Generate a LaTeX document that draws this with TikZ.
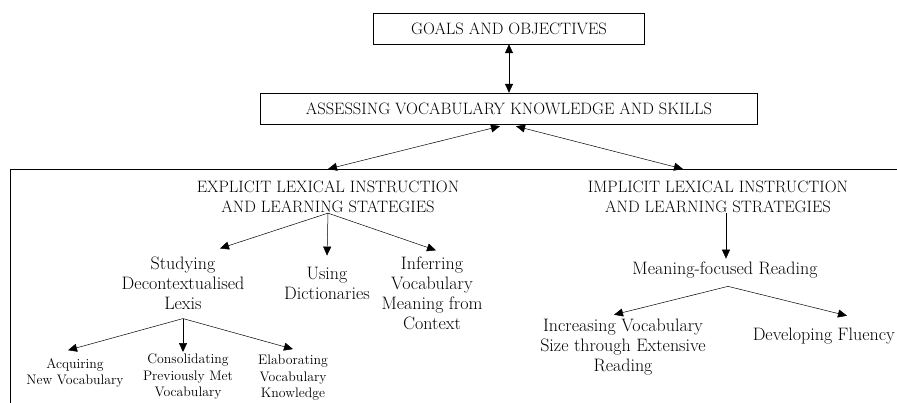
\documentclass[tikz,border=0pt]{standalone}
\usepackage{tikz}
\usetikzlibrary{arrows.meta}
\tikzset{
    plain-box/.style = {draw, thin, rectangle, minimum height=31pt, inner sep=0pt, font=\fontsize{16.5}{20}\selectfont},
    frame-box/.style = {draw, thin, rectangle, anchor=north west, minimum width=900pt, minimum height=250pt},
    head-text/.style = {align=center, inner sep=0pt, font=\fontsize{16.5}{20}\selectfont},
    item-text/.style = {align=center, inner sep=0pt, font=\fontsize{18}{20}\selectfont},
    small-text/.style = {align=center, inner sep=0pt, font=\fontsize{13.8}{16.5}\selectfont},
    link/.style = {-{Triangle[length=9pt,width=8pt]}, line width=0.5pt},
    link-both/.style = {{Triangle[length=9pt,width=8pt]}-{Triangle[length=9pt,width=8pt]}, line width=0.5pt},
}

\begin{document}
\begin{tikzpicture}[x=1pt, y=-1pt]
\useasboundingbox (0,0) rectangle (897,403);

\node[plain-box, minimum width=271pt] (goals) at (509,28.5) {GOALS AND OBJECTIVES};
\node[plain-box, minimum width=497pt] (assess) at (509,108.5) {ASSESSING VOCABULARY KNOWLEDGE AND SKILLS};
\node[frame-box] (lexical) at (10,169) {};

\node[head-text] (explicit) at (328,197) {EXPLICIT LEXICAL INSTRUCTION\\AND LEARNING STATEGIES};
\node[head-text] (implicit) at (718,197) {IMPLICIT LEXICAL INSTRUCTION\\AND LEARNING STRATEGIES};

\node[item-text] (studying) at (183,283) {Studying\\Decontextualised\\Lexis};
\node[item-text] (using) at (327,283) {Using\\Dictionaries};
\node[item-text] (inferring) at (432,293) {Inferring\\Vocabulary\\Meaning from\\Context};

\node[small-text] (acquiring) at (75,373) {Acquiring\\New Vocabulary};
\node[small-text] (consolidating) at (188,377) {Consolidating\\Previously Met\\Vocabulary};
\node[small-text] (elaborating) at (293,378) {Elaborating\\Vocabulary\\Knowledge};

\node[item-text] (meaning) at (725,270) {Meaning-focused Reading};
\node[item-text] (increasing) at (623,347) {Increasing Vocabulary\\Size through Extensive\\Reading};
\node[item-text, anchor=east] (fluency) at (895,336) {Developing Fluency};

% top levels
\draw[link-both] (goals.south) -- (assess.north);
\draw[link-both] ([xshift=-9pt,yshift=-2pt]assess.south) -- (explicit.north |- lexical.north);
\draw[link-both] ([xshift=7pt,yshift=-2pt]assess.south) -- ([xshift=-35pt]implicit.north |- lexical.north);

% explicit branch
\draw[link] (explicit.south) -- ([xshift=37pt,yshift=8pt]studying.north);
\draw[link] (explicit.south) -- ([yshift=11pt]using.north);
\draw[link] (explicit.south) -- ([xshift=4pt,yshift=6pt]inferring.north);
\draw[link] ([yshift=-9pt]studying.south) -- ([xshift=-7pt,yshift=8pt]acquiring.north);
\draw[link] ([yshift=-9pt]studying.south) -- ([xshift=-5pt,yshift=2pt]consolidating.north);
\draw[link] ([yshift=-9pt]studying.south) -- ([yshift=6pt]elaborating.north);

% implicit branch
\draw[link] ([xshift=8pt]implicit.south) -- ([xshift=1pt,yshift=3pt]meaning.north);
\draw[link] ([xshift=3pt,yshift=-8pt]meaning.south) -- ([xshift=-9pt,yshift=4pt]increasing.north);
\draw[link] ([xshift=3pt,yshift=-8pt]meaning.south) -- ([xshift=-48pt,yshift=12pt]fluency.north east);
\end{tikzpicture}
\end{document}
